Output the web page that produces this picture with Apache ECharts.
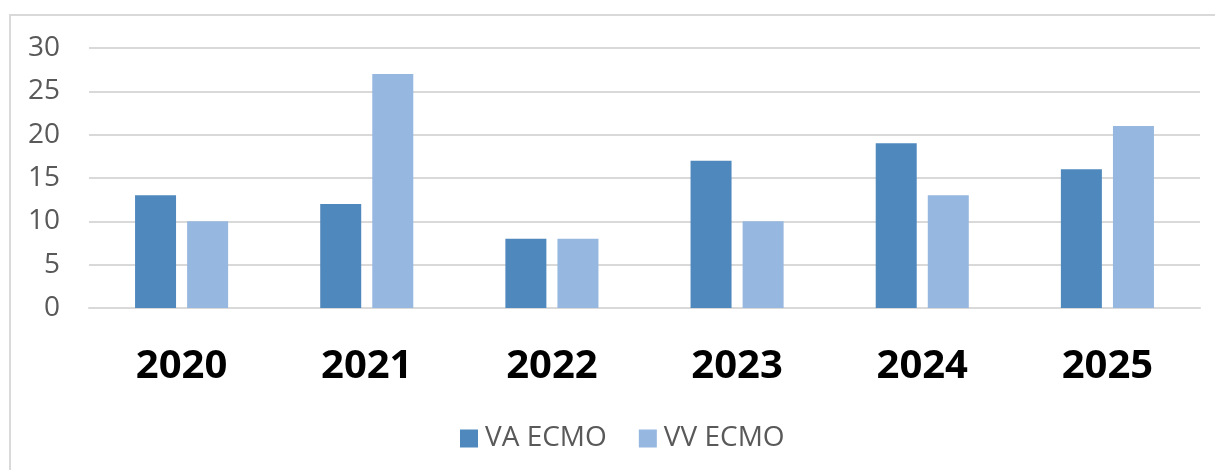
<!DOCTYPE html>
<html>
<head>
<meta charset="utf-8">
<script src="https://cdn.jsdelivr.net/npm/echarts@6/dist/echarts.min.js"></script>
<style>
html,body{margin:0;padding:0;background:#fff;}
#wrap{position:relative;width:1215px;height:470px;overflow:hidden;}
#frame{position:absolute;left:9px;top:14px;width:1300px;height:600px;border:2px solid #d9d9d9;box-sizing:border-box;}
#chart{position:absolute;left:0;top:0;width:1215px;height:470px;}
</style>
</head>
<body>
<div id="wrap"><div id="frame"></div><div id="chart"></div></div>
<script>
const categories = ['2020','2021','2022','2023','2024','2025'];
const vaEcmo = [13, 12, 8, 17, 19, 16];
const vvEcmo = [10, 27, 8, 10, 13, 21];
const seriesNames = ['VA ECMO','VV ECMO'];

const chart = echarts.init(document.getElementById('chart'));
chart.setOption({
  animation: false,
  grid: {left: 89, right: 15, top: 48, height: 260, containLabel: false},
  legend: {
    left: 455, top: 418,
    itemWidth: 18, itemHeight: 18, itemGap: 32,
    icon: 'rect',
    textStyle: {fontFamily: 'Open Sans', fontSize: 28, color: '#595959', lineHeight: 31, padding: [0,0,0,2]},
    data: seriesNames
  },
  xAxis: {
    type: 'category',
    data: categories,
    axisLine: {show: true, lineStyle: {color: '#d9d9d9', width: 2}},
    axisTick: {show: false},
    axisLabel: {fontFamily: 'Open Sans', fontWeight: 'bold', fontSize: 40, color: '#000', margin: 38, lineHeight: 42}
  },
  yAxis: {
    type: 'value',
    min: 0, max: 30, interval: 5,
    axisLine: {show: false},
    axisTick: {show: false},
    splitLine: {lineStyle: {color: '#d9d9d9', width: 2}},
    axisLabel: {fontFamily: 'Open Sans', fontSize: 28, color: '#595959', margin: 29}
  },
  series: [
    {name: seriesNames[0], type: 'bar', data: vaEcmo, barWidth: 41, barGap: '27%', itemStyle: {color: '#4F88BD'}},
    {name: seriesNames[1], type: 'bar', data: vvEcmo, barWidth: 41, itemStyle: {color: '#96B7DF'}}
  ]
});
</script>
</body>
</html>
